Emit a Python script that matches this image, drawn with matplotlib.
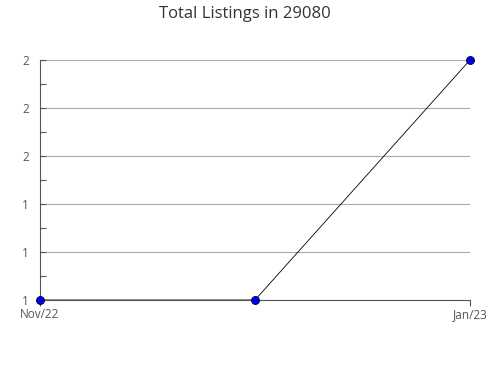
import matplotlib
matplotlib.use("Agg")
import matplotlib.pyplot as plt
from matplotlib.ticker import MultipleLocator, FormatStrFormatter

months = ["Nov/22", "Dec/22", "Jan/23"]
listings = [1, 1, 2]
xtick_labels = ["Nov/22", "", "Jan/23"]

plt.rcParams['font.family'] = ['Open Sans', 'DejaVu Sans']

fig = plt.figure(figsize=(4.9, 3.8), dpi=100)
ax = fig.add_axes([40/490, 1-300/380, 430/490, 240/380])

x = list(range(len(months)))
ax.plot(x, listings, color='black', linewidth=0.6, zorder=3)
ax.scatter(x, listings, s=32, color='#0000ee', edgecolors='#000044', linewidths=0.7, zorder=4, clip_on=False)

ax.set_xlim(0, 2)
ax.set_ylim(1, 2)
ax.yaxis.set_major_locator(MultipleLocator(0.2))
ax.yaxis.set_minor_locator(MultipleLocator(0.1))
ax.yaxis.set_major_formatter(FormatStrFormatter('%.0f'))
ax.set_xticks([0, 2])
ax.set_xticklabels([xtick_labels[0], xtick_labels[2]])

ax.grid(axis='y', color='#aaaaaa', linewidth=0.8)
ax.set_axisbelow(True)
for s in ['top', 'right']:
    ax.spines[s].set_visible(False)
for s in ['left', 'bottom']:
    ax.spines[s].set_color('#555555')
    ax.spines[s].set_linewidth(0.8)

ax.tick_params(axis='y', which='both', direction='in', color='#555555', labelcolor='#555555', labelsize=8.5, pad=8, length=4, width=0.8)
ax.tick_params(axis='x', direction='out', color='#555555', labelcolor='#555555', labelsize=8.5, pad=2, length=4, width=0.8)

fig.suptitle("Total Listings in 29080", y=0.985, fontsize=12, color='#333333')

fig.savefig("out.png", dpi=100)
